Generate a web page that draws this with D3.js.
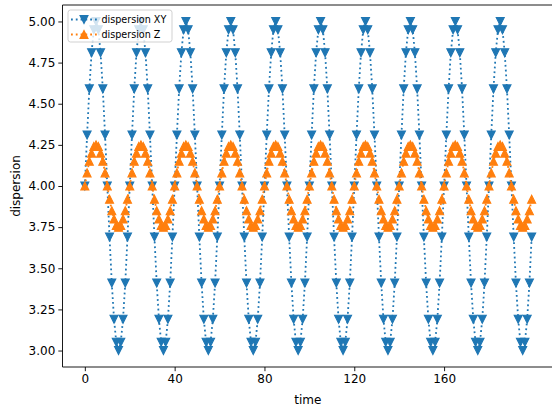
<!DOCTYPE html>
<html>
<head>
<meta charset="utf-8">
<script src="https://cdn.jsdelivr.net/npm/d3@7"></script>
<style>
  html, body { margin: 0; padding: 0; background: #fff; }
  svg { display: block; font-family: "DejaVu Sans", sans-serif; }
</style>
</head>
<body>
<svg id="chart" width="552" height="413"></svg>
<script>
// Dispersion of the particle cloud, one sample per time step
const dispersionXY = [
  4.00,4.31,4.59,4.81,4.95,5.00,4.95,4.81,4.59,4.31,4.00,3.69,3.41,3.19,3.05,3.00,3.05,3.19,3.41,3.69,
  4.00,4.31,4.59,4.81,4.95,5.00,4.95,4.81,4.59,4.31,4.00,3.69,3.41,3.19,3.05,3.00,3.05,3.19,3.41,3.69,
  4.00,4.31,4.59,4.81,4.95,5.00,4.95,4.81,4.59,4.31,4.00,3.69,3.41,3.19,3.05,3.00,3.05,3.19,3.41,3.69,
  4.00,4.31,4.59,4.81,4.95,5.00,4.95,4.81,4.59,4.31,4.00,3.69,3.41,3.19,3.05,3.00,3.05,3.19,3.41,3.69,
  4.00,4.31,4.59,4.81,4.95,5.00,4.95,4.81,4.59,4.31,4.00,3.69,3.41,3.19,3.05,3.00,3.05,3.19,3.41,3.69,
  4.00,4.31,4.59,4.81,4.95,5.00,4.95,4.81,4.59,4.31,4.00,3.69,3.41,3.19,3.05,3.00,3.05,3.19,3.41,3.69,
  4.00,4.31,4.59,4.81,4.95,5.00,4.95,4.81,4.59,4.31,4.00,3.69,3.41,3.19,3.05,3.00,3.05,3.19,3.41,3.69,
  4.00,4.31,4.59,4.81,4.95,5.00,4.95,4.81,4.59,4.31,4.00,3.69,3.41,3.19,3.05,3.00,3.05,3.19,3.41,3.69,
  4.00,4.31,4.59,4.81,4.95,5.00,4.95,4.81,4.59,4.31,4.00,3.69,3.41,3.19,3.05,3.00,3.05,3.19,3.41,3.69,
  4.00,4.31,4.59,4.81,4.95,5.00,4.95,4.81,4.59,4.31,4.00,3.69,3.41,3.19,3.05,3.00,3.05,3.19,3.41,3.69
];
const dispersionZ = [
  4.00,4.08,4.15,4.20,4.24,4.25,4.24,4.20,4.15,4.08,4.00,3.92,3.85,3.80,3.76,3.75,3.76,3.80,3.85,3.92,
  4.00,4.08,4.15,4.20,4.24,4.25,4.24,4.20,4.15,4.08,4.00,3.92,3.85,3.80,3.76,3.75,3.76,3.80,3.85,3.92,
  4.00,4.08,4.15,4.20,4.24,4.25,4.24,4.20,4.15,4.08,4.00,3.92,3.85,3.80,3.76,3.75,3.76,3.80,3.85,3.92,
  4.00,4.08,4.15,4.20,4.24,4.25,4.24,4.20,4.15,4.08,4.00,3.92,3.85,3.80,3.76,3.75,3.76,3.80,3.85,3.92,
  4.00,4.08,4.15,4.20,4.24,4.25,4.24,4.20,4.15,4.08,4.00,3.92,3.85,3.80,3.76,3.75,3.76,3.80,3.85,3.92,
  4.00,4.08,4.15,4.20,4.24,4.25,4.24,4.20,4.15,4.08,4.00,3.92,3.85,3.80,3.76,3.75,3.76,3.80,3.85,3.92,
  4.00,4.08,4.15,4.20,4.24,4.25,4.24,4.20,4.15,4.08,4.00,3.92,3.85,3.80,3.76,3.75,3.76,3.80,3.85,3.92,
  4.00,4.08,4.15,4.20,4.24,4.25,4.24,4.20,4.15,4.08,4.00,3.92,3.85,3.80,3.76,3.75,3.76,3.80,3.85,3.92,
  4.00,4.08,4.15,4.20,4.24,4.25,4.24,4.20,4.15,4.08,4.00,3.92,3.85,3.80,3.76,3.75,3.76,3.80,3.85,3.92,
  4.00,4.08,4.15,4.20,4.24,4.25,4.24,4.20,4.15,4.08,4.00,3.92,3.85,3.80,3.76,3.75,3.76,3.80,3.85,3.92
];
const time = dispersionXY.map((_, i) => i);
const xTicks = [0, 40, 80, 120, 160];
const yTicks = [3.00, 3.25, 3.50, 3.75, 4.00, 4.25, 4.50, 4.75, 5.00];
const seriesNames = ["dispersion XY", "dispersion Z"];

const svg = d3.select("#chart");
const plot = { left: 62.5, right: 554, top: 5, bottom: 367 };

const x = d3.scaleLinear().domain([-9.95, 208.95]).range([plot.left, plot.right]);
const y = d3.scaleLinear().domain([2.9, 5.1]).range([plot.bottom, plot.top]);

svg.append("defs").append("clipPath").attr("id", "plotClip")
  .append("rect")
  .attr("x", plot.left).attr("y", plot.top)
  .attr("width", plot.right - plot.left).attr("height", plot.bottom - plot.top);

const series = [
  { name: seriesNames[0], values: dispersionXY, color: "#1f77b4", down: true },
  { name: seriesNames[1], values: dispersionZ, color: "#ff7f0e", down: false }
];

const ms = 8; // marker size in px
function triPath(down) {
  const h = ms / 2;
  return down
    ? `M0,${h}L${-h},${-h}L${h},${-h}Z`
    : `M0,${-h}L${-h},${h}L${h},${h}Z`;
}

const line = d3.line().x((d, i) => x(time[i])).y(d => y(d));
const layer = svg.append("g").attr("clip-path", "url(#plotClip)");

series.forEach(s => {
  layer.append("path")
    .datum(s.values)
    .attr("d", line)
    .attr("fill", "none")
    .attr("stroke", s.color)
    .attr("stroke-width", 1.8)
    .attr("stroke-dasharray", "1.8,3");
  layer.append("g").selectAll("path")
    .data(s.values)
    .join("path")
    .attr("transform", (d, i) => `translate(${x(time[i])},${y(d)})`)
    .attr("d", triPath(s.down))
    .attr("fill", s.color)
    .attr("stroke", s.color)
    .attr("stroke-width", 1.1)
    .attr("stroke-linejoin", "miter");
});

// Axes
const xAxis = d3.axisBottom(x).tickValues(xTicks).tickSize(4.2).tickPadding(3).tickFormat(d3.format("d"));
const yAxis = d3.axisLeft(y).tickValues(yTicks).tickSize(4.2).tickPadding(3).tickFormat(d3.format(".2f"));

const gx = svg.append("g").attr("transform", `translate(0,${plot.bottom})`).call(xAxis);
const gy = svg.append("g").attr("transform", `translate(${plot.left},0)`).call(yAxis);
[gx, gy].forEach(g => {
  g.select(".domain").remove();
  g.selectAll(".tick line").attr("stroke", "#000").attr("stroke-width", 0.9);
  g.selectAll(".tick text").attr("fill", "#000").style("font-size", "12px")
    .style("font-family", "DejaVu Sans, sans-serif");
});

// Spines
const spine = svg.append("g").attr("stroke", "#000").attr("stroke-width", 0.9).attr("fill", "none");
spine.append("line").attr("x1", plot.left).attr("x2", plot.left).attr("y1", plot.top).attr("y2", plot.bottom);
spine.append("line").attr("x1", plot.left).attr("x2", plot.right).attr("y1", plot.bottom).attr("y2", plot.bottom);
spine.append("line").attr("x1", plot.left).attr("x2", plot.right).attr("y1", plot.top).attr("y2", plot.top);
spine.append("line").attr("x1", plot.right).attr("x2", plot.right).attr("y1", plot.top).attr("y2", plot.bottom);

// Axis labels
svg.append("text")
  .attr("x", (plot.left + plot.right) / 2 - 0.5)
  .attr("y", 404)
  .attr("text-anchor", "middle")
  .style("font-size", "12px")
  .text("time");
svg.append("text")
  .attr("transform", `translate(20,${(plot.top + plot.bottom) / 2}) rotate(-90)`)
  .attr("text-anchor", "middle")
  .style("font-size", "12px")
  .text("dispersion");

// Legend
const legend = svg.append("g");
legend.append("rect")
  .attr("x", 68).attr("y", 10).attr("width", 104).attr("height", 32)
  .attr("rx", 2.5)
  .attr("fill", "#fff").attr("fill-opacity", 0.8)
  .attr("stroke", "#cccccc").attr("stroke-width", 0.9);
series.forEach((s, i) => {
  const cy = 19.5 + i * 15;
  legend.append("line")
    .attr("x1", 71).attr("x2", 97).attr("y1", cy).attr("y2", cy)
    .attr("stroke", s.color).attr("stroke-width", 1.8)
    .attr("stroke-dasharray", "1.8,3");
  legend.append("path")
    .attr("transform", `translate(84,${cy})`)
    .attr("d", triPath(s.down))
    .attr("fill", s.color).attr("stroke", s.color).attr("stroke-width", 1.1);
  legend.append("text")
    .attr("x", 101.5).attr("y", cy)
    .attr("dy", "0.35em")
    .style("font-size", "9.6px")
    .text(s.name);
});
</script>
</body>
</html>
